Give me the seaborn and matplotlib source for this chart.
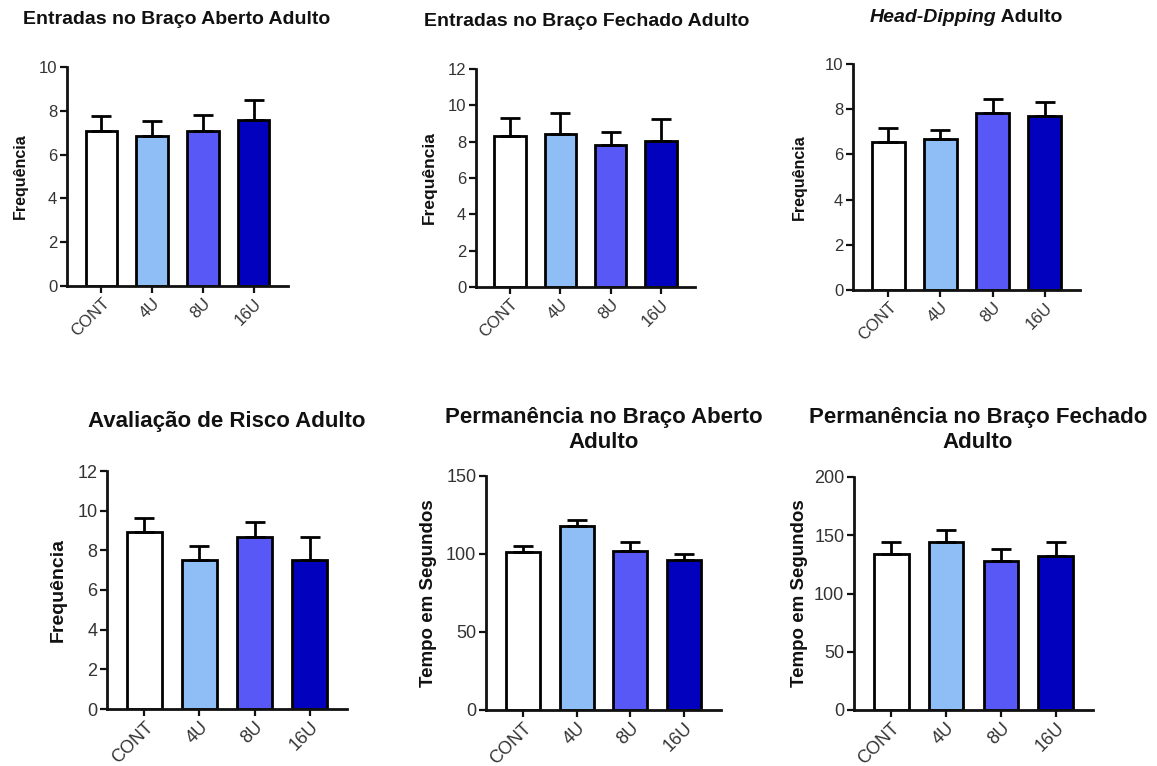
import numpy as np
import pandas as pd
import seaborn as sns
import matplotlib.pyplot as plt

# data: means and upper error (SEM) per group
grupos = ["CONT", "4U", "8U", "16U"]
cores = ["#FFFFFF", "#8FBEF7", "#5858F6", "#0202BE"]

entradas_aberto = [7.08, 6.85, 7.08, 7.58]
entradas_aberto_sem = [0.68, 0.70, 0.72, 0.91]

entradas_fechado = [8.31, 8.40, 7.81, 8.03]
entradas_fechado_sem = [1.01, 1.19, 0.70, 1.22]

head_dipping = [6.57, 6.70, 7.81, 7.68]
head_dipping_sem = [0.59, 0.37, 0.64, 0.63]

avaliacao_risco = [8.91, 7.53, 8.68, 7.53]
avaliacao_risco_sem = [0.71, 0.68, 0.74, 1.13]

perm_aberto = [101.1, 118.0, 101.8, 96.2]
perm_aberto_sem = [4.1, 4.1, 6.0, 3.5]

perm_fechado = [134.3, 144.0, 128.0, 132.0]
perm_fechado_sem = [10.3, 10.3, 10.3, 12.3]

sns.set_theme(style="ticks")
plt.rcParams['font.family'] = ['Liberation Sans', 'DejaVu Sans']

W, H = 1157, 766
fig = plt.figure(figsize=(W / 100, H / 100), dpi=100)


def rect(l, t, r, b):
    return [l / W, 1 - b / H, (r - l) / W, (b - t) / H]


def painel(box, medias, sem, ymax, ystep, ylabel, ylab_x, fs_tick, fs_lab):
    ax = fig.add_axes(rect(*box))
    df = pd.DataFrame({"grupo": grupos, "valor": medias})
    sns.barplot(data=df, x="grupo", y="valor", hue="grupo", palette=cores,
                saturation=1, edgecolor="black", linewidth=2, width=0.63,
                legend=False, errorbar=None, ax=ax)
    ax.errorbar(range(len(grupos)), medias, yerr=[np.zeros(len(sem)), sem],
                fmt="none", ecolor="black", elinewidth=2, capsize=7,
                capthick=2, zorder=1)
    ax.set_ylim(0, ymax)
    ax.set_xlim(-0.68, 3.68)
    ax.set_yticks(np.arange(0, ymax + 0.1, ystep))
    ax.set_xlabel("")
    ax.set_ylabel(ylabel, fontsize=fs_lab, fontweight="bold", color="#111")
    # label position (right edge) in axes fraction from pixel x
    l, t, r, b = box
    ax.yaxis.set_label_coords((ylab_x - l) / (r - l), 0.5)
    sns.despine(ax=ax)
    for s in ["left", "bottom"]:
        ax.spines[s].set_linewidth(2)
        ax.spines[s].set_color("#111")
    ax.tick_params(width=1.6, length=5, color="#111", labelsize=fs_tick,
                   labelcolor="#333", pad=2)
    plt.setp(ax.get_xticklabels(), rotation=45, ha="right",
             rotation_mode="anchor")
    return ax


painel((67, 67, 288, 286), entradas_aberto, entradas_aberto_sem, 10, 2,
       "Frequência", 28, 12, 11.5)
painel((476, 69, 695, 287), entradas_fechado, entradas_fechado_sem, 12, 2,
       "Frequência", 437, 12, 12.5)
painel((853, 64, 1080, 290), head_dipping, head_dipping_sem, 10, 2,
       "Frequência", 807, 12, 11.5)
painel((107, 471, 347, 709), avaliacao_risco, avaliacao_risco_sem, 12, 2,
       "Frequência", 67, 13, 14)
painel((486, 476, 721, 710), perm_aberto, perm_aberto_sem, 150, 50,
       "Tempo em Segundos", 437, 13, 13.5)
painel((854, 477, 1093, 710), perm_fechado, perm_fechado_sem, 200, 50,
       "Tempo em Segundos", 808, 13, 13.5)


def titulo(x, y, txt, fs):
    fig.text(x / W, 1 - y / H, txt, ha="center", va="center",
             fontsize=fs, fontweight="bold", color="#111", linespacing=1.25)


titulo(177, 20, "Entradas no Braço Aberto Adulto", 14)
titulo(587, 22, "Entradas no Braço Fechado Adulto", 14)
titulo(227, 422, "Avaliação de Risco Adulto", 16)
titulo(604, 430, "Permanência no Braço Aberto\nAdulto", 16)
titulo(978, 430, "Permanência no Braço Fechado\nAdulto", 16)

# Head-Dipping title: italic part + regular bold part
t1 = fig.text(0, 1 - 18 / H, "Head-Dipping", ha="left", va="center",
              fontsize=14, fontweight="bold", style="italic", color="#111")
t2 = fig.text(0, 1 - 18 / H, " Adulto", ha="left", va="center",
              fontsize=14, fontweight="bold", color="#111")
fig.canvas.draw()
r = fig.canvas.get_renderer()
w1 = t1.get_window_extent(r).width
w2 = t2.get_window_extent(r).width
x0 = 966 - (w1 + w2) / 2
t1.set_x(x0 / W)
t2.set_x((x0 + w1) / W)

fig.savefig("out.png", dpi=100)
